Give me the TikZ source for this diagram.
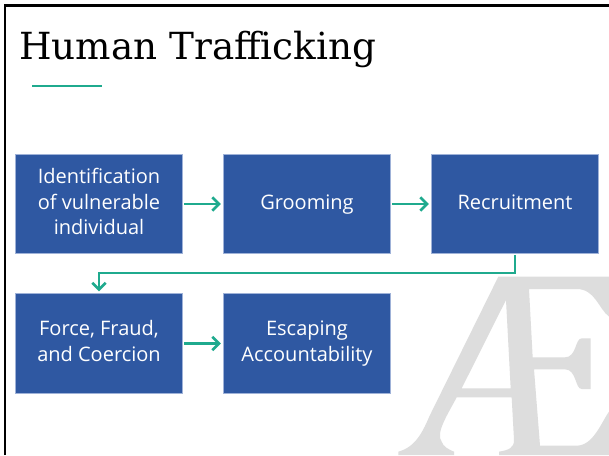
\documentclass[tikz,border=0pt]{standalone}
\usepackage{fontspec}
\setmainfont{Open Sans}
\newfontfamily\titlefont{DejaVu Serif}
\usetikzlibrary{arrows.meta}
\definecolor{boxblue}{HTML}{2F58A2}
\definecolor{boxedge}{HTML}{9FB2D8}
\definecolor{linkteal}{HTML}{1FAA8E}
\definecolor{wmgray}{HTML}{DDDDDD}
\tikzset{
  stepbox/.style={draw=boxedge,line width=0.6pt,fill=boxblue,text=white,minimum width=125.6pt,minimum height=74.6pt,inner sep=0pt,align=center,font=\fontsize{15}{19.1}\selectfont},
  link/.style={draw=linkteal,line width=2pt,shorten >=1.5pt,shorten <=0.6pt,-{Straight Barb[length=5pt,width=10pt,line width=2pt]}},
}
\begin{document}
\begin{tikzpicture}[x=0.75pt,y=-0.75pt]
\useasboundingbox (0,0) rectangle (609,455);
\fill[white] (0,0) rectangle (609,455);
% watermark (coordinates in 3x crop units offset to the crop origin)
\begin{scope}[shift={(380,240)},x=0.25pt,y=-0.25pt]
\fill[wmgray,even odd rule]
 (355,110) -- (687,110) -- (687,230) .. controls (655,205) and (645,147) .. (590,147)
 -- (447,147) -- (458,352) -- (555,352) .. controls (590,352) and (585,295) .. (605,295)
 -- (632,295) -- (632,447) -- (605,447) .. controls (585,447) and (590,388) .. (555,388)
 -- (462,388) -- (480,617) -- (590,617) .. controls (640,617) and (665,545) .. (687,515)
 -- (687,645) -- (357,645) -- (357,635) .. controls (385,630) and (402,625) .. (402,600)
 -- (395,472) -- (230,472) .. controls (205,520) and (165,580) .. (185,605)
 .. controls (190,620) and (205,628) .. (222,635) -- (222,645) -- (55,645) -- (55,635)
 .. controls (110,620) and (130,570) .. (150,525) -- cycle
 (378,180) -- (245,445) -- (392,445) -- cycle;
\end{scope}
% slide frame
\draw[black,line width=1.9pt] (5,455) -- (5,5.5) -- (609,5.5);
% title
\node[anchor=base west,inner sep=0pt,font=\titlefont\fontsize{28}{34}\selectfont] (title) at (19,59) {Human Trafficking};
\coordinate (ruleA) at (32,86);
\coordinate (ruleB) at (102,86);
\draw[linkteal,line width=1.5pt] (ruleA) -- (ruleB);
% boxes
\node[stepbox] (id) at (99,204) {\strut Identification\\\strut of vulnerable\\\strut individual};
\node[stepbox] (groom) at (307,204) {\strut Grooming};
\node[stepbox] (recruit) at (515,204) {\strut Recruitment};
\node[stepbox] (force) at (99,343.5) {\strut Force, Fraud,\\\strut and Coercion};
\node[stepbox] (escape) at (307,343.5) {\strut Escaping\\\strut Accountability};
% connectors
\path[link] (id) -- (groom);
\path[link] (groom) -- (recruit);
\path[link] (force) -- (escape);
\coordinate (bend) at (300,273);
\path[link] (recruit.south) -- (recruit.south |- bend) -- (force.north |- bend) -- (force.north);
\end{tikzpicture}
\end{document}
